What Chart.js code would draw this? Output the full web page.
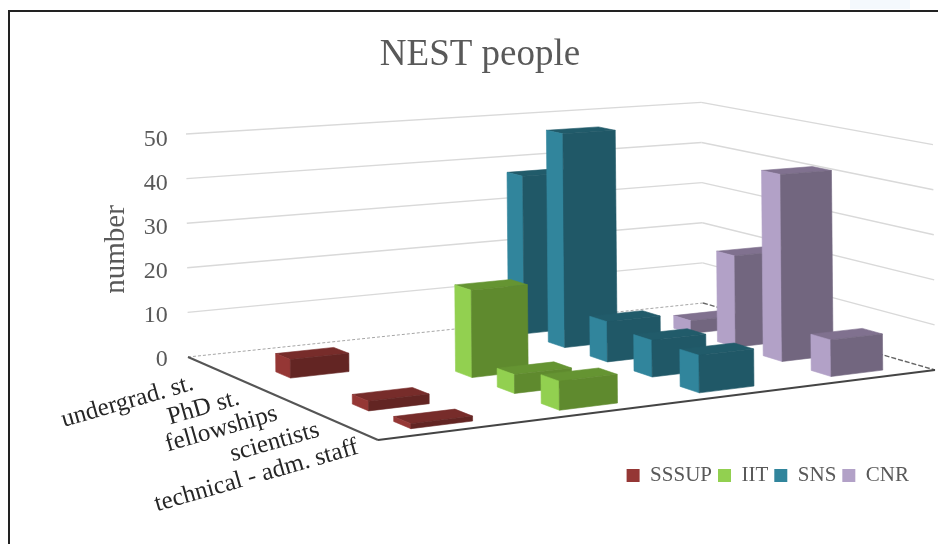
<!DOCTYPE html>
<html>
<head>
<meta charset="utf-8">
<title>NEST people</title>
<script src="https://cdn.jsdelivr.net/npm/chart.js@4/dist/chart.umd.js"></script>
<style>
body { margin: 0; background: #fff; }
#wrap { position: relative; width: 938px; height: 544px; overflow: hidden; }
#frame { position: absolute; left: 8px; top: 10px; width: 940px; height: 540px; border-left: 2px solid #222; border-top: 2px solid #222; }
#corner { position: absolute; left: 850px; top: 0; width: 60px; height: 9px; background: #f4f9fd; }
</style>
</head>
<body>
<div id="wrap">
<canvas id="graphCanvas" width="938" height="544"></canvas>
<div id="corner"></div>
<div id="frame"></div>
</div>
<script>
const categories = ["undergrad. st.", "PhD st.", "fellowships", "scientists", "technical - adm. staff"];
const sssup = [null, 4, null, 2, 1];
const iit = [null, null, 19, 4, 6];
const sns = [37, 49, 9, 8, 8];
const cnr = [null, 3, 21, 42, 8];
const valueTicks = [0, 10, 20, 30, 40, 50];

const leftColors = ["#953735", "#92d050", "#31859c", "#b2a1c7"];
const frontColors = ["#632523", "#5f8a2e", "#205867", "#72667f"];
const topColors = ["#772c2a", "#659432", "#215b6a", "#80718f"];

// floor of the box: back-left, back-right, front-right, front-left
const floor = [[188, 357], [703, 303], [935, 370], [378, 440]];
const rise = [-2, -223];
const barSpanS = 0.051;
const barSpanT = 0.04;
const labelShift = [-12, -1, 0, 3, 1];

// unit square to floor quad
function makeProjection(q){
    const dx1 = q[1][0] - q[2][0], dx2 = q[3][0] - q[2][0], sx = q[0][0] - q[1][0] + q[2][0] - q[3][0];
    const dy1 = q[1][1] - q[2][1], dy2 = q[3][1] - q[2][1], sy = q[0][1] - q[1][1] + q[2][1] - q[3][1];
    const det = dx1 * dy2 - dx2 * dy1;
    const g = (sx * dy2 - dx2 * sy) / det;
    const h = (dx1 * sy - sx * dy1) / det;
    const a = q[1][0] - q[0][0] + g * q[1][0], b = q[3][0] - q[0][0] + h * q[3][0];
    const d = q[1][1] - q[0][1] + g * q[1][1], e = q[3][1] - q[0][1] + h * q[3][1];
    return (s, t, w) => {
        const den = g * s + h * t + 1;
        return [(a * s + b * t + q[0][0] + rise[0] * w) / den, (d * s + e * t + q[0][1] + rise[1] * w) / den];
    };
}
const project = makeProjection(floor);

function poly(ctx, pts, color){
    ctx.beginPath();
    pts.forEach((p, i) => i ? ctx.lineTo(p[0], p[1]) : ctx.moveTo(p[0], p[1]));
    ctx.closePath();
    ctx.fillStyle = color;
    ctx.fill();
    ctx.strokeStyle = color;
    ctx.lineWidth = 0.6;
    ctx.stroke();
}

function line(ctx, a, b, color, width, dash){
    ctx.beginPath();
    ctx.moveTo(a[0], a[1]);
    ctx.lineTo(b[0], b[1]);
    ctx.strokeStyle = color;
    ctx.lineWidth = width;
    ctx.setLineDash(dash || []);
    ctx.stroke();
    ctx.setLineDash([]);
}

// bars as boxes, datasets are painted last to first so the left ones stay in front
class Bar3dController extends Chart.BarController {
    draw(){
        const ctx = this.chart.ctx;
        const xs = this._cachedMeta.xScale;
        const ys = this._cachedMeta.yScale;
        const count = this.chart.data.datasets.length;
        const s = (this.index + 0.5) / count;
        const values = this.getDataset().data;
        this._cachedMeta.data.forEach((bar, i) => {
            if(values[i] === null) return;
            const t = (xs.getPixelForValue(i) - xs.left) / xs.width;
            const w = (ys.bottom - bar.y) / ys.height;
            const s0 = s - barSpanS, s1 = s + barSpanS;
            const t0 = t - barSpanT, t1 = t + barSpanT;
            poly(ctx, [project(s0, t0, w), project(s1, t0, w), project(s1, t1, w), project(s0, t1, w)], topColors[this.index]);
            poly(ctx, [project(s0, t0, 0), project(s0, t1, 0), project(s0, t1, w), project(s0, t0, w)], leftColors[this.index]);
            poly(ctx, [project(s0, t1, 0), project(s1, t1, 0), project(s1, t1, w), project(s0, t1, w)], frontColors[this.index]);
        });
    }
}
Bar3dController.id = "bar3d";
Bar3dController.defaults = Chart.BarController.defaults;
Bar3dController.overrides = Chart.BarController.overrides;
Chart.register(Bar3dController);

const boxWalls = {
    id: "boxWalls",
    beforeDatasetsDraw(chart){
        const ctx = chart.ctx;
        const ys = chart.scales.y;
        ctx.save();
        ys.ticks.forEach(tick => {
            if(tick.value === 0) return;
            const w = (ys.bottom - ys.getPixelForValue(tick.value)) / ys.height;
            line(ctx, project(0, 0, w), project(1, 0, w), "#d9d9d9", 1.4);
            line(ctx, project(1, 0, w), project(1, 1, w), "#d9d9d9", 1.4);
        });
        line(ctx, project(0, 0, 0), project(1, 0, 0), "#a6a6a6", 1, [3, 2]);
        line(ctx, project(1, 0, 0), project(1, 1, 0), "#666666", 1.4, [5, 2]);
        line(ctx, project(0, 0, 0), project(0, 1, 0), "#555555", 2);
        line(ctx, project(0, 1, 0), project(1, 1, 0), "#444444", 2);
        ctx.restore();
    },
    afterDraw(chart){
        const ctx = chart.ctx;
        const xs = chart.scales.x;
        ctx.save();
        ctx.font = "25px 'Liberation Serif'";
        ctx.fillStyle = "#262626";
        ctx.textAlign = "right";
        ctx.textBaseline = "middle";
        categories.forEach((name, i) => {
            const t = (xs.getPixelForValue(i) - xs.left) / xs.width;
            const p = project(0, t, 0);
            ctx.save();
            ctx.translate(p[0] + labelShift[i], p[1] + 19 - 3 * t);
            ctx.rotate(-16 * Math.PI / 180);
            ctx.fillText(name, 0, 0);
            ctx.restore();
        });
        ctx.restore();
    }
};

const seriesNames = ["SSSUP", "IIT", "SNS", "CNR"];
const seriesValues = [sssup, iit, sns, cnr];

new Chart(document.getElementById("graphCanvas"), {
    type: "bar3d",
    data: {
        labels: categories,
        datasets: seriesNames.map((name, i) => ({
            label: name,
            data: seriesValues[i],
            backgroundColor: leftColors[i],
            clip: false
        }))
    },
    plugins: [boxWalls],
    options: {
        responsive: false,
        animation: false,
        layout: { padding: { left: 45, right: 23, bottom: 48, top: 0 } },
        scales: {
            x: {
                type: "category",
                offset: true,
                grid: { display: false },
                border: { display: false },
                ticks: { display: false },
                afterFit(scale){ scale.height = 99.5; }
            },
            y: {
                type: "linear",
                min: 0,
                max: 50,
                grid: { display: false },
                border: { display: false },
                afterBuildTicks(scale){ scale.ticks = valueTicks.map(v => ({ value: v })); },
                ticks: { color: "#595959", font: { family: "'Liberation Serif'", size: 24 }, padding: 3 },
                title: {
                    display: true,
                    text: "number",
                    color: "#595959",
                    font: { family: "'Liberation Serif'", size: 29 },
                    padding: { top: 54, bottom: 7 }
                }
            }
        },
        plugins: {
            tooltip: { enabled: false },
            title: {
                display: true,
                text: "NEST people",
                color: "#595959",
                font: { family: "'Liberation Serif'", size: 37, weight: "normal" },
                padding: { top: 33, bottom: 62 }
            },
            legend: {
                position: "bottom",
                align: "end",
                labels: {
                    color: "#595959",
                    font: { family: "'Liberation Serif'", size: 21 },
                    boxWidth: 13,
                    boxHeight: 13,
                    padding: 6
                }
            }
        }
    }
});
</script>
</body>
</html>
